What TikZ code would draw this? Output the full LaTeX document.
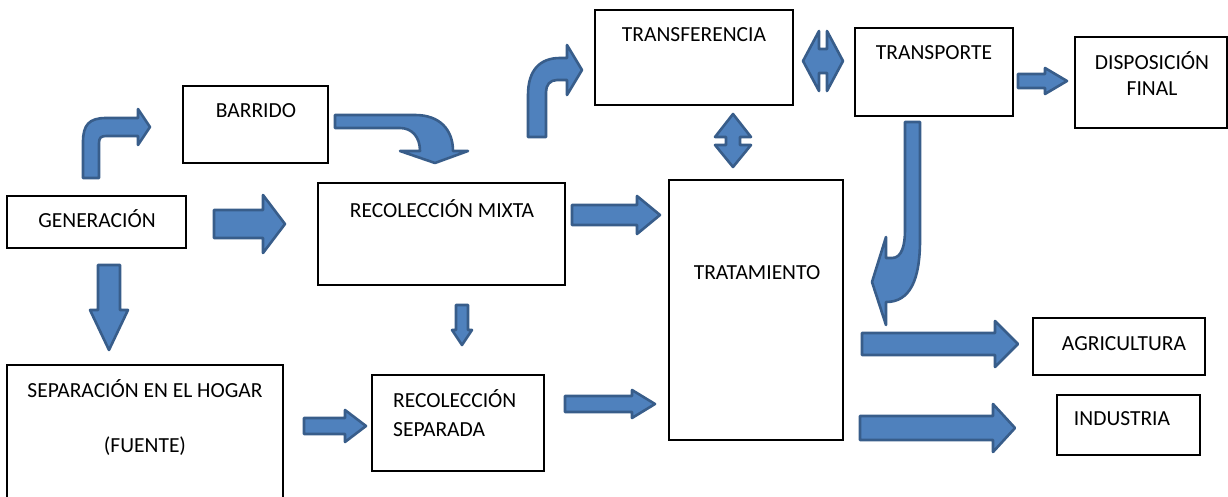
\documentclass[tikz,border=0pt]{standalone}
\usepackage{fontspec}
\setmainfont{Carlito}
\definecolor{afill}{HTML}{4F81BD}
\definecolor{aline}{HTML}{385D8A}
\tikzset{
  box/.style={draw=black, line width=1.6pt, fill=white, inner sep=0pt},
  lbl/.style={inner sep=0pt, font=\fontsize{21.5}{26}\selectfont},
  barrow/.style={fill=afill, draw=aline, line width=2.6pt, line join=round},
}
\newcommand\blockR[6]{% x1 hx x2 yc bh hh
  \filldraw[barrow] ({#1},{#4-#5}) -- ({#2},{#4-#5}) -- ({#2},{#4-#6}) -- ({#3},{#4}) -- ({#2},{#4+#6}) -- ({#2},{#4+#5}) -- ({#1},{#4+#5}) -- cycle;}
\newcommand\blockD[6]{% y1 hy y2 xc bh hh
  \filldraw[barrow] ({#4-#5},{#1}) -- ({#4-#5},{#2}) -- ({#4-#6},{#2}) -- ({#4},{#3}) -- ({#4+#6},{#2}) -- ({#4+#5},{#2}) -- ({#4+#5},{#1}) -- cycle;}
\begin{document}
\begin{tikzpicture}[x=1pt,y=-1pt]
\useasboundingbox (0,0) rectangle (1228,497);
\clip (0,0) rectangle (1228,497);
% boxes
\node[box, minimum width=198pt, minimum height=95pt] (transf) at (694,57.5) {};
\node[box, minimum width=158pt, minimum height=88pt] (transp) at (934,72) {};
\node[box, minimum width=152pt, minimum height=91pt] (disp) at (1151,82.5) {};
\node[box, minimum width=145pt, minimum height=77pt] (barr) at (255.5,124.5) {};
\node[box, minimum width=179pt, minimum height=52pt] (gen) at (96.5,222) {};
\node[box, minimum width=247pt, minimum height=102pt] (rm) at (441.5,234) {};
\node[box, minimum width=174pt, minimum height=260pt] (trat) at (756,310) {};
\node[box, minimum width=172pt, minimum height=57pt] (agr) at (1119,346.5) {};
\node[box, minimum width=143pt, minimum height=60pt] (ind) at (1128.5,425) {};
\node[box, minimum width=276pt, minimum height=140pt] (sep) at (145,435) {};
\node[box, minimum width=172pt, minimum height=96pt] (rs) at (458,423) {};
% texts
\node[lbl] (ttransf) at (694,35) {TRANSFERENCIA};
\node[lbl] (ttransp) at (934,53) {TRANSPORTE};
\node[lbl] (tdisp1) at (1152,61) {DISPOSICIÓN};
\node[lbl] (tdisp2) at (1152,89) {FINAL};
\node[lbl] (tbarr) at (256,111) {BARRIDO};
\node[lbl] (tgen) at (97,219) {GENERACIÓN};
\node[lbl] (trm) at (442,209) {RECOLECCIÓN MIXTA};
\node[lbl] (ttrat) at (757,273) {TRATAMIENTO};
\node[lbl] (tagr) at (1124,344) {AGRICULTURA};
\node[lbl] (tind) at (1122,419) {INDUSTRIA};
\node[lbl] (tsep1) at (145,389) {SEPARACIÓN EN EL HOGAR};
\node[lbl] (tsep2) at (145,446) {(FUENTE)};
\node[lbl, anchor=west] (trs1) at (393,399) {RECOLECCIÓN};
\node[lbl, anchor=west] (trs2) at (393,430) {SEPARADA};
% straight block arrows
\blockR{214}{263}{285}{224}{14}{29}
\blockR{572}{637}{660}{215}{10}{19}
\blockR{304}{345}{366}{426}{8}{16}
\blockR{565}{632}{655}{404}{8}{14}
\blockR{862}{995}{1018}{344}{11}{23}
\blockR{860}{993}{1015}{428}{12}{24}
\blockR{1018}{1045}{1067}{81}{7}{13}
\blockD{265}{310}{350}{109}{11}{19}
\blockD{305}{330}{345}{462}{6}{10}
% double arrows
\filldraw[barrow] (733,114) -- (751,137) -- (740,137) -- (740,145) -- (751,145) -- (733,167) -- (715,145) -- (726,145) -- (726,137) -- (715,137) -- cycle;
\filldraw[barrow] (803,61) -- (819,31) -- (819,49) -- (827,49) -- (827,31) -- (843,61) -- (827,91) -- (827,73) -- (819,73) -- (819,91) -- cycle;
% bent arrow to BARRIDO
\filldraw[barrow] (83,178) -- (83,142) .. controls (83,125) and (89,118) .. (106,118) -- (138,118) -- (138,109) -- (150,127) -- (138,145) -- (138,136) -- (106,136) .. controls (101,136) and (99,138) .. (99,143) -- (99,178) -- cycle;
% bent arrow to TRANSFERENCIA
\filldraw[barrow] (528,137) -- (528,95) .. controls (528,70) and (540,58) .. (560,58) -- (567,58) -- (567,45) -- (582,70) -- (567,95) -- (567,80) -- (557,80) .. controls (550,80) and (546,85) .. (546,92) -- (546,137) -- cycle;
% curved arrow BARRIDO -> RECOLECCION MIXTA
\filldraw[barrow] (335,115) -- (415,115) .. controls (440,115) and (453,130) .. (453,151) -- (468,151) -- (435,163) -- (400,151) -- (420,151) .. controls (420,137) and (412,128) .. (400,128) -- (335,128) -- cycle;
% curved arrow TRANSPORTE -> TRATAMIENTO
\filldraw[barrow] (905,122) -- (920,122) -- (920,240) .. controls (920,280) and (910,302) .. (886,302) -- (886,325) -- (872,282) -- (886,237) -- (886,258) -- (892,258) .. controls (902,258) and (905,245) .. (905,230) -- cycle;
\end{tikzpicture}
\end{document}
